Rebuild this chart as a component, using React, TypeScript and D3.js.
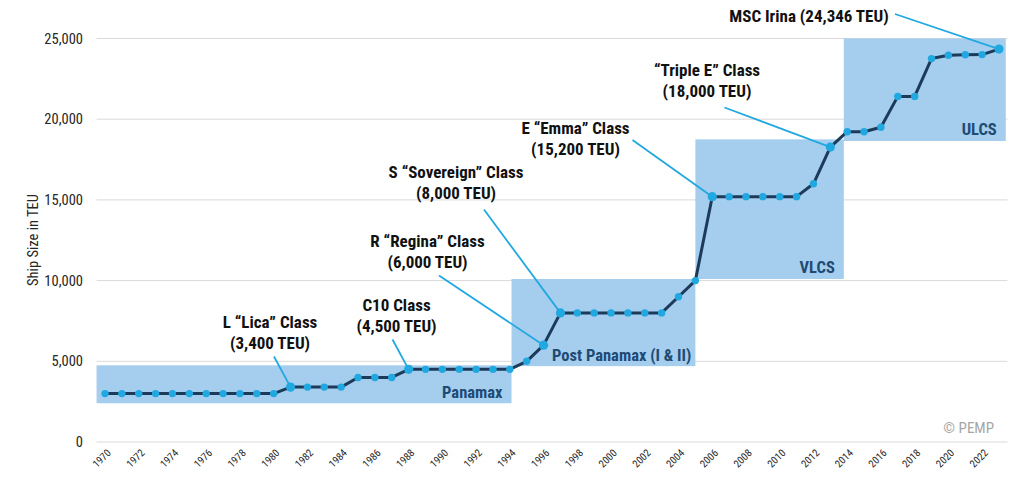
import * as d3 from "d3";

// ship size of the largest container vessel in service, per year
const years = [
  1970, 1971, 1972, 1973, 1974, 1975, 1976, 1977, 1978, 1979, 1980, 1981, 1982, 1983, 1984, 1985, 1986, 1987,
  1988, 1989, 1990, 1991, 1992, 1993, 1994, 1995, 1996, 1997, 1998, 1999, 2000, 2001, 2002, 2003, 2004, 2005,
  2006, 2007, 2008, 2009, 2010, 2011, 2012, 2013, 2014, 2015, 2016, 2017, 2018, 2019, 2020, 2021, 2022, 2023,
];
const teu = [
  3000, 3000, 3000, 3000, 3000, 3000, 3000, 3000, 3000, 3000, 3000, 3400, 3400, 3400, 3400, 4000, 4000, 4000,
  4500, 4500, 4500, 4500, 4500, 4500, 4500, 5000, 6000, 8000, 8000, 8000, 8000, 8000, 8000, 8000, 9000, 10000,
  15200, 15200, 15200, 15200, 15200, 15200, 16000, 18270, 19224, 19224, 19500, 21413, 21413, 23756, 23964, 23992, 24004, 24346,
];

const yTicks = [0, 5000, 10000, 15000, 20000, 25000];
const xTickYears = years.filter((y) => (y - 1970) % 2 === 0);

// ship classes shaded behind the line (year span, TEU span)
const classNames = ["Panamax", "Post Panamax (I & II)", "VLCS", "ULCS"];
const classYears = [
  [1969.5, 1994.1],
  [1994.1, 2005],
  [2005, 2013.8],
  [2013.8, 2023.4],
];
const classTeu = [
  [2400, 4750],
  [4700, 10100],
  [10100, 18750],
  [18650, 25000],
];

// annotated vessels
const noteYears = [1981, 1988, 1996, 1997, 2006, 2013, 2023];
const noteLines = [
  ["L \u201cLica\u201d Class", "(3,400 TEU)"],
  ["C10 Class", "(4,500 TEU)"],
  ["R \u201cRegina\u201d Class", "(6,000 TEU)"],
  ["S \u201cSovereign\u201d Class", "(8,000 TEU)"],
  ["E \u201cEmma\u201d Class", "(15,200 TEU)"],
  ["\u201cTriple E\u201d Class", "(18,000 TEU)"],
  ["MSC Irina (24,346 TEU)"],
];

const W = 1024;
const H = 496;
const NARROW = "'Liberation Sans Narrow', 'Arial Narrow', 'Roboto Condensed', Arial, sans-serif";

// where each annotation text sits: centre x, first line y, leader start
const noteLayout = [
  { cx: 270, cy: 322.5, lx: 274, ly: 356.5 },
  { cx: 396.5, cy: 305.5, lx: 392.5, ly: 339.5 },
  { cx: 427.5, cy: 241.5, lx: 439, ly: 275.5 },
  { cx: 456, cy: 172.5, lx: 484, ly: 209.5 },
  { cx: 575.5, cy: 128.5, lx: 632.5, ly: 140 },
  { cx: 707, cy: 70.5, lx: 724.5, ly: 107.5 },
  { cx: 809, cy: 16.5, lx: 895, ly: 14 },
];

export default function App() {
  const x = d3.scaleLinear().domain([1970, 2023]).range([105, 999]);
  const y = d3.scaleLinear().domain([0, 25000]).range([442, 38.5]);
  const fmt = d3.format(",");

  const line = d3
    .line<number>()
    .x((_, i) => x(years[i]))
    .y((d) => y(d));

  const gx0 = x(1969.5);
  const gx1 = x(2023.5);

  return (
    <svg
      width={W}
      height={H}
      viewBox={`0 0 ${W} ${H}`}
      style={{ position: "absolute", left: 0, top: 0, background: "#fff" }}
    >
      {/* gridlines */}
      <g>
        {yTicks.map((t) => (
          <line key={t} x1={gx0} x2={gx1} y1={y(t)} y2={y(t)} stroke="#d9d9d9" strokeWidth={1} />
        ))}
      </g>

      {/* class boxes */}
      <g>
        {classNames.map((name, i) => {
          const [a, b] = classYears[i];
          const [lo, hi] = classTeu[i];
          return (
            <rect
              key={name}
              x={x(a)}
              y={y(hi)}
              width={x(b) - x(a)}
              height={y(lo) - y(hi)}
              fill="#a4cdee"
            />
          );
        })}
      </g>

      {/* y axis */}
      <g fontFamily={NARROW} fontSize={14.5} fill="#262626">
        {yTicks.map((t) => (
          <text key={t} x={83} y={y(t)} dy="0.35em" textAnchor="end">
            {fmt(t)}
          </text>
        ))}
        <text transform={`translate(33,240) rotate(-90)`} textAnchor="middle" dy="0.35em">
          Ship Size in TEU
        </text>
      </g>

      {/* x axis */}
      <g fontFamily={NARROW} fontSize={10.5} fill="#262626">
        {xTickYears.map((yr) => (
          <text key={yr} transform={`translate(${x(yr) + 4},${451}) rotate(-45)`} textAnchor="end" dy="0.35em">
            {yr}
          </text>
        ))}
      </g>

      {/* class labels */}
      <g fontFamily={NARROW} fontSize={16.5} fontWeight="bold" fill="#1f4a72" textAnchor="end">
        {classNames.map((name, i) => (
          <text key={name} x={x(classYears[i][1]) - (i === 1 ? 4 : 9)} y={y(classTeu[i][0]) - 5.5}>
            {name}
          </text>
        ))}
      </g>

      {/* leader lines */}
      <g stroke="#22a8e0" strokeWidth={1.8}>
        {noteYears.map((yr, i) => {
          const idx = years.indexOf(yr);
          return (
            <line key={yr} x1={noteLayout[i].lx} y1={noteLayout[i].ly} x2={x(yr)} y2={y(teu[idx])} />
          );
        })}
      </g>

      {/* main series */}
      <path d={line(teu) ?? ""} fill="none" stroke="#1c3b5b" strokeWidth={3} strokeLinejoin="round" />
      <g fill="#22a8e0">
        {teu.map((v, i) => (
          <circle key={years[i]} cx={x(years[i])} cy={y(v)} r={noteYears.includes(years[i]) ? 4.6 : 3.7} />
        ))}
      </g>

      {/* annotation texts */}
      <g fontFamily={NARROW} fontSize={17} fontWeight="bold" fill="#111" textAnchor="middle">
        {noteLines.map((lines, i) =>
          lines.map((t, j) => (
            <text key={`${i}-${j}`} x={noteLayout[i].cx} y={noteLayout[i].cy + j * 21} dy="0.35em">
              {t}
            </text>
          )),
        )}
      </g>

      <text x={994} y={428} dy="0.35em" textAnchor="end" fontFamily={NARROW} fontSize={15} fill="#a6a6a6">
        © PEMP
      </text>
    </svg>
  );
}
